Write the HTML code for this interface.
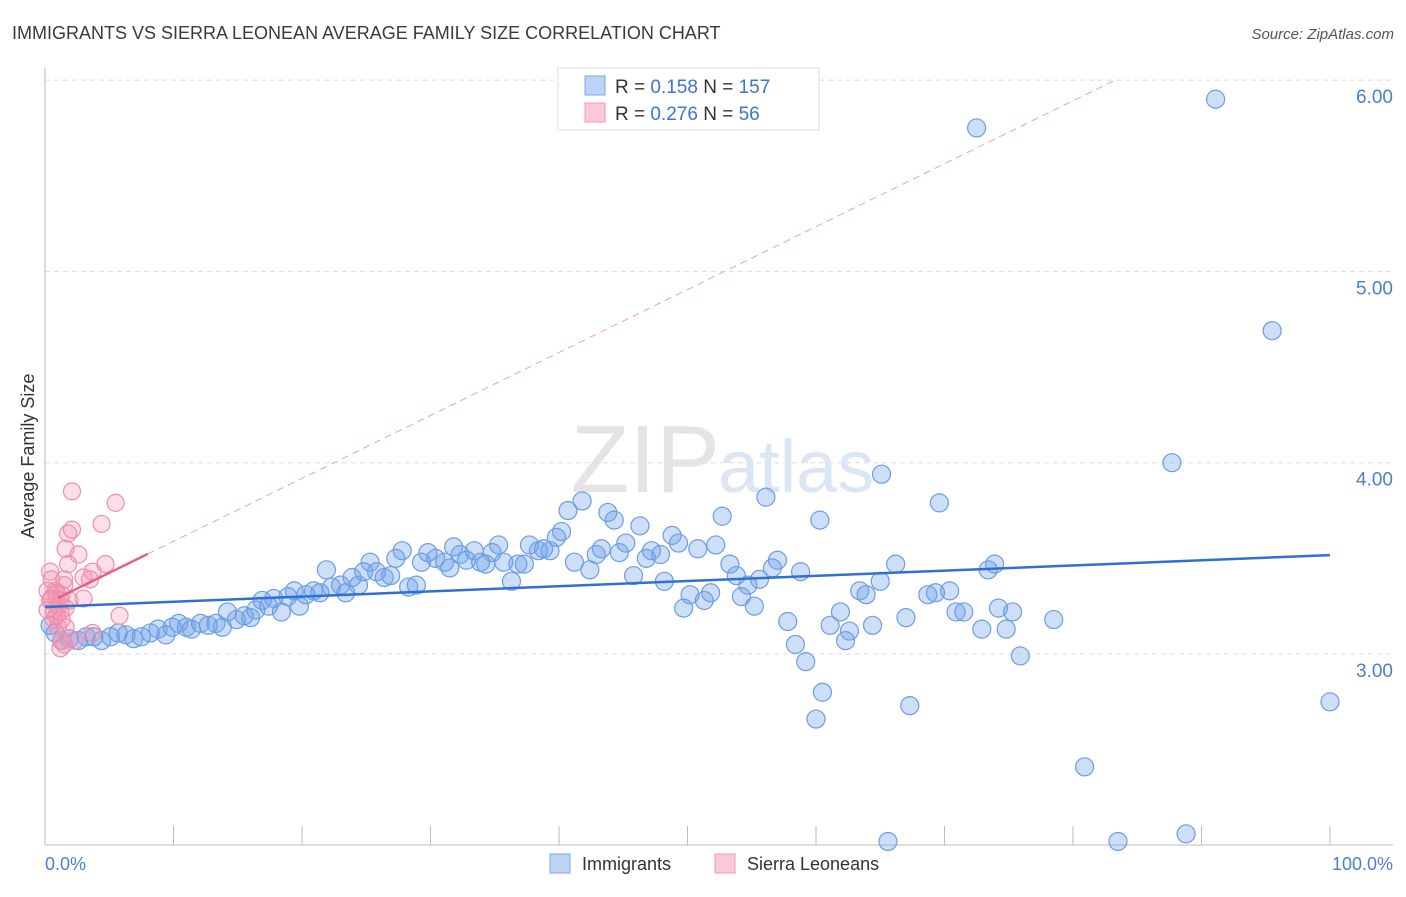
<!DOCTYPE html>
<html><head><meta charset="utf-8"><style>
body{margin:0;background:#fff;font-family:"Liberation Sans",sans-serif}
svg text{font-family:"Liberation Sans",sans-serif}
</style></head><body>
<svg width="1406" height="892" xmlns="http://www.w3.org/2000/svg">
<text x="12" y="39" font-size="18" fill="#3a3a3a">IMMIGRANTS VS SIERRA LEONEAN AVERAGE FAMILY SIZE CORRELATION CHART</text>
<text x="1394" y="39" font-size="15" fill="#555" font-style="italic" text-anchor="end">Source: ZipAtlas.com</text>
<g id="grid"></g>
<text x="720" y="492" font-size="96" fill="#e4e4e4" text-anchor="end" font-family="Liberation Serif">ZIP</text>
<text x="718" y="492" font-size="74" fill="#dbe6f4">atlas</text>
<g id="marks"></g>
<text transform="translate(34,456) rotate(-90)" font-size="18" fill="#333" text-anchor="middle">Average Family Size</text>
<text x="45" y="870" font-size="18" fill="#4a7fd0">0.0%</text>
<text x="1393" y="870" font-size="18" fill="#4a7fd0" text-anchor="end">100.0%</text>
<g>
<rect x="558" y="68" width="261" height="62" fill="#fff" stroke="#ddd"/>
<rect x="585" y="76" width="20" height="19" fill="#bcd3f5" stroke="#7ea6e3"/>
<rect x="585" y="103" width="20" height="19" fill="#fcc9d6" stroke="#ef9ab2"/>
<text x="615" y="93" font-size="19" fill="#333">R = <tspan fill="#3d74cc">0.158</tspan>   N = <tspan fill="#3d74cc">157</tspan></text>
<text x="615" y="120" font-size="19" fill="#333">R = <tspan fill="#3d74cc">0.276</tspan>   N = <tspan fill="#3d74cc">  56</tspan></text>
</g>
<g>
<rect x="550" y="854" width="20" height="19" fill="#bcd3f5" stroke="#7ea6e3"/>
<text x="582" y="870" font-size="18" fill="#333">Immigrants</text>
<rect x="715" y="854" width="20" height="19" fill="#fcc9d6" stroke="#ef9ab2"/>
<text x="747" y="870" font-size="18" fill="#333">Sierra Leoneans</text>
</g>
</svg>
<script>
const yTicks=[3,4,5,6];
const yTickLabels=["3.00","4.00","5.00","6.00"];
const xTicks=[0,10,20,30,40,50,60,70,80,90,100];
const blueX=[0.4,0.8,1.3,1.9,2.6,3.2,3.8,4.4,5.1,5.7,6.3,6.9,7.5,8.2,8.8,9.4,9.9,10.4,11.0,11.4,12.1,12.7,13.3,13.8,14.2,14.9,15.5,16.0,16.4,16.9,17.4,17.8,18.4,18.9,19.4,19.8,20.3,20.9,21.4,21.9,22.3,23.0,23.4,23.9,24.4,24.8,25.3,25.8,26.4,26.9,27.3,27.8,28.3,28.9,29.3,29.8,30.4,31.1,31.5,31.8,32.3,32.8,33.4,33.9,34.3,34.8,35.3,35.7,36.3,36.8,37.3,37.7,38.4,38.8,39.3,39.8,40.2,40.7,41.2,41.8,42.4,42.9,43.3,43.8,44.3,44.7,45.2,45.8,46.3,46.8,47.2,47.9,48.2,48.8,49.3,49.7,50.2,50.8,51.3,51.8,52.2,52.7,53.3,53.8,54.2,54.7,55.2,55.6,56.1,56.6,57.0,57.8,58.4,58.8,59.2,60.0,60.3,60.5,61.1,61.9,62.3,62.6,63.4,63.9,64.4,65.0,65.1,65.6,66.2,67.0,67.3,68.7,69.3,69.6,70.4,70.9,71.5,72.5,72.9,73.4,73.9,74.2,74.8,75.3,75.9,78.5,80.9,83.5,87.7,88.8,91.1,95.5,100];
const blueY=[3.15,3.11,3.07,3.08,3.07,3.09,3.09,3.07,3.09,3.11,3.10,3.08,3.09,3.11,3.13,3.10,3.14,3.16,3.14,3.13,3.16,3.15,3.16,3.14,3.22,3.18,3.20,3.19,3.23,3.28,3.25,3.29,3.22,3.30,3.33,3.25,3.31,3.33,3.32,3.44,3.35,3.36,3.32,3.40,3.36,3.43,3.48,3.43,3.40,3.41,3.50,3.54,3.35,3.36,3.48,3.53,3.50,3.48,3.45,3.56,3.52,3.49,3.54,3.48,3.47,3.53,3.57,3.48,3.38,3.47,3.47,3.57,3.54,3.55,3.54,3.61,3.64,3.75,3.48,3.80,3.44,3.52,3.55,3.74,3.70,3.53,3.58,3.41,3.67,3.50,3.54,3.52,3.38,3.62,3.58,3.24,3.31,3.55,3.28,3.32,3.57,3.72,3.47,3.41,3.30,3.36,3.25,3.39,3.82,3.45,3.49,3.17,3.05,3.43,2.96,2.66,3.70,2.80,3.15,3.22,3.07,3.12,3.33,3.31,3.15,3.38,3.94,2.02,3.47,3.19,2.73,3.31,3.32,3.79,3.33,3.22,3.22,5.75,3.13,3.44,3.47,3.24,3.13,3.22,2.99,3.18,2.41,2.02,4.00,2.06,5.90,4.69,2.75];
const pinkX=[0.4,0.5,0.8,0.9,1.0,1.2,0.7,1.0,1.3,1.5,1.2,1.3,0.9,1.5,1.8,1.6,2.1,1.8,2.6,2.1,3.0,3.5,3.7,3.0,4.4,4.7,5.5,5.8,1.6,1.9,2.3,1.2,0.5,0.7,0.2,0.2,0.4,1.3,0.9,1.5,3.7,1.6];
const pinkY=[3.43,3.39,3.33,3.29,3.25,3.22,3.18,3.14,3.07,3.05,3.28,3.31,3.32,3.36,3.47,3.55,3.65,3.63,3.52,3.85,3.40,3.39,3.43,3.29,3.68,3.47,3.79,3.20,3.24,3.28,3.07,3.03,3.29,3.23,3.33,3.23,3.28,3.18,3.20,3.39,3.11,3.14];
const blueTrend=[3.246,3.517];
const pinkTrend=[3.26,6.55];
const pinkSolidEnd=8;
const X0=45,X1=1330,Ypx3=654,PPU=191.3,TOP=68,BOT=845;
const sx=p=>X0+(X1-X0)*p/100;
const sy=v=>Ypx3-(v-3)*PPU;
const NS="http://www.w3.org/2000/svg";
function mk(t,a,parent){const e=document.createElementNS(NS,t);for(const k in a)e.setAttribute(k,a[k]);parent.appendChild(e);return e;}
const grid=document.getElementById('grid'),marks=document.getElementById('marks');
yTicks.forEach((v,i)=>{
 const l=mk('line',{x1:X0,x2:1393,y1:sy(v),y2:sy(v),stroke:'#ddd','stroke-dasharray':'5,4'},grid);
 
 
 const t=mk('text',{x:1393,y:sy(v)+23,'font-size':19,fill:'#4a7fd0','text-anchor':'end'},grid);
 t.textContent=yTickLabels[i];
 
 
});
const ax=mk('line',{x1:X0,x2:X0,y1:TOP,y2:BOT,stroke:'#bbb'},grid);


const bx=mk('line',{x1:X0,x2:1393,y1:BOT,y2:BOT,stroke:'#bbb'},grid);


xTicks.forEach(p=>{const t=mk('line',{x1:sx(p),x2:sx(p),y1:826,y2:BOT,stroke:'#bbb'},grid);
 
 });
blueX.forEach((p,i)=>{const c=mk('circle',{cx:sx(p),cy:sy(blueY[i]),r:9,fill:'rgba(110,160,235,0.35)',stroke:'#6d9de3','stroke-width':1.2},marks);
 
 });
pinkX.forEach((p,i)=>{const c=mk('circle',{cx:sx(p),cy:sy(pinkY[i]),r:8.5,fill:'rgba(245,150,180,0.3)',stroke:'#ee8fab','stroke-width':1.2},marks);
 
 });
const bt=mk('line',{x1:sx(0),y1:sy(blueTrend[0]),x2:sx(100),y2:sy(blueTrend[1]),stroke:'#2f6fd6','stroke-width':2.5},marks);


const pv=p=>pinkTrend[0]+(pinkTrend[1]-pinkTrend[0])*p/100;
const pEnd=(6-pinkTrend[0])/(pinkTrend[1]-pinkTrend[0])*100;
const pd=mk('line',{x1:sx(pinkSolidEnd),y1:sy(pv(pinkSolidEnd)),x2:sx(pEnd),y2:sy(6),stroke:'#eea0b6','stroke-width':1,'stroke-dasharray':'7,5'},marks);


const ps=mk('line',{x1:sx(1),y1:sy(pv(1)),x2:sx(pinkSolidEnd),y2:sy(pv(pinkSolidEnd)),stroke:'#e8608a','stroke-width':2.5},marks);


</script>
</body></html>
